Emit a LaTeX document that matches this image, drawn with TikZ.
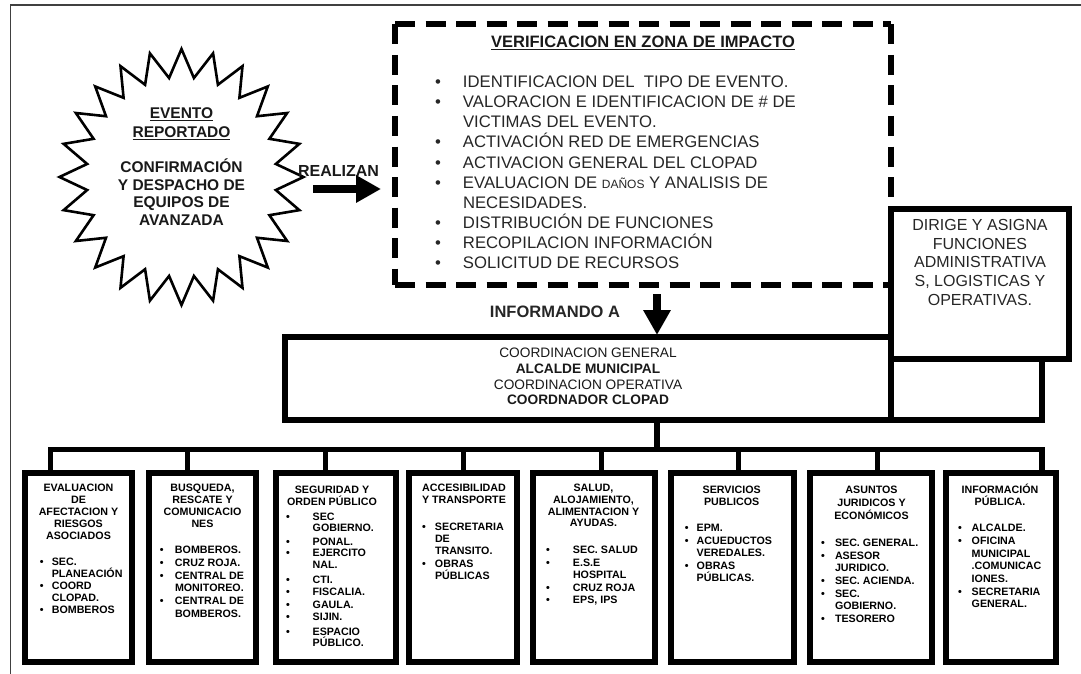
\documentclass[tikz,border=0pt]{standalone}
\usepackage{fontspec}
\setmainfont{Liberation Sans}
\usetikzlibrary{arrows.meta}
\setlength\lineskiplimit{-100pt}
\setlength\lineskip{0pt}
\newcommand\fs[2]{\fontsize{#1}{#2}\selectfont}
\newcommand\myul[1]{\setbox0\hbox{#1}\rlap{\rule[-2.6pt]{\wd0}{1.3pt}}\box0}
\def\bw{12pt}
\newcommand\mybul{\makebox[\bw][l]{\textbullet}}
\newcommand\myind{\hspace*{\bw}}
\begin{document}
\begin{tikzpicture}[x=1pt,y=-1pt,
  every node/.style={inner sep=0pt, outer sep=0pt},
  frame/.style={draw=black!75, line width=1.5pt},
  thickbox/.style={draw, line width=6pt, fill=white, line join=miter},
  dashline/.style={line width=6pt, dash pattern=on 20pt off 10.5pt},
  bigarrow/.style={line width=8.3pt, -{Triangle[length=25pt,width=26pt]}},
  bus/.style={line width=5.2pt, line join=miter},
  stitle/.style={align=center, anchor=north, font=\fs{10.7}{12}\bfseries},
  slist/.style={align=left, anchor=north west},
]
\useasboundingbox (0,0) rectangle (1081,674);
% outer frame (cropped)
\draw[frame] (10.5,674) -- (10.5,5) -- (1081,5);

% starburst
\draw[line width=2.6pt, line join=miter, miter limit=20] (303.5,177)
  \foreach \i in {1,...,47} { -- ({181.5+122*(0.89+0.11*cos(180*\i))*cos(7.5*\i)},{177+128*(0.89+0.11*cos(180*\i))*sin(7.5*\i)}) } -- cycle;
\node[align=center, anchor=north, font=\fs{15.5}{17.8}\bfseries, text=black!90] (evento) at (181.5,107.5)
  {\myul{EVENTO}\\[1.2pt]\myul{REPORTADO}\\[17.2pt]CONFIRMACIÓN\\Y DESPACHO DE\\EQUIPOS DE\\AVANZADA};

\node[font=\fs{16}{18}\bfseries, text=black!90] (realizan) at (338.5,171) {REALIZAN};

% dashed verification box
\node[minimum width=496pt, minimum height=260.5pt] (verif) at (643,154.75) {};
\draw[dashline] (verif.north west) -- (verif.south west);
\draw[dashline] (verif.north west) -- (verif.north east);
\draw[dashline] (verif.south west) -- (verif.south east);
\draw[dashline] (verif.north east) -- (verif.south east);
\node[anchor=north, font=\fs{16.5}{19}\bfseries, text=black!90] (vtitle) at (643,36.1) {\myul{VERIFICACION EN ZONA DE IMPACTO}};
\node[slist, font={\fs{16.7}{20.1}\def\bw{27.9pt}}, text=black!85] (vlist) at (435.1,76)
  {\mybul IDENTIFICACION DEL~ TIPO DE EVENTO.\\
   \mybul VALORACION E IDENTIFICACION DE \# DE\\
   \myind VICTIMAS DEL EVENTO.\\
   \mybul ACTIVACIÓN RED DE EMERGENCIAS\\
   \mybul ACTIVACION GENERAL DEL CLOPAD\\
   \mybul EVALUACION DE {\fs{12}{12}DAÑOS} Y ANALISIS DE\\
   \myind NECESIDADES.\\
   \mybul DISTRIBUCIÓN DE FUNCIONES\\
   \mybul RECOPILACION INFORMACIÓN\\
   \mybul SOLICITUD DE RECURSOS};

% arrow REALIZAN
\coordinate (ra) at (313,189);
\draw[bigarrow, shorten >=14pt] (ra) -- (ra -| verif.west);

% DIRIGE box
\node[thickbox, minimum width=178pt, minimum height=150pt] (dirige) at (980,283.5) {};
\node[align=center, anchor=north, font=\fs{16}{18.75}, text=black!85] (dtext) at (980,219.3)
  {DIRIGE Y ASIGNA\\FUNCIONES\\ADMINISTRATIVA\\S, LOGISTICAS Y\\OPERATIVAS.};

% coordination box
\node[draw, line width=6.5pt, minimum width=606pt, minimum height=83pt] (coord) at (588,378.5) {};
\node[align=center, anchor=north, font=\fs{13.7}{15.7}, text=black!90] (ctext) at (588,348.1)
  {COORDINACION GENERAL\\\textbf{ALCALDE MUNICIPAL}\\COORDINACION OPERATIVA\\\textbf{COORDNADOR CLOPAD}};
\coordinate (dx) at (1041.5,420);
\draw[line width=6pt, line join=miter] (dx |- dirige.south) -- (dx) -- (coord.south east);

\node[font=\fs{16.5}{19}\bfseries, text=black!85] (inf) at (555,312) {INFORMANDO A};
\coordinate (ia) at (657,294);
\draw[bigarrow, shorten >=2pt] (ia) -- (ia |- coord.north);

% bottom boxes
\node[thickbox, minimum width=107pt, minimum height=189pt] (b1) at (78.5,567.5) {};
\node[thickbox, minimum width=107pt, minimum height=189pt] (b2) at (202.5,567.5) {};
\node[thickbox, minimum width=120pt, minimum height=189pt] (b3) at (336,567.5) {};
\node[thickbox, minimum width=108pt, minimum height=189pt] (b4) at (463,567.5) {};
\node[thickbox, minimum width=122pt, minimum height=189pt] (b5) at (594,567.5) {};
\node[thickbox, minimum width=123pt, minimum height=189pt] (b6) at (732.5,567.5) {};
\node[thickbox, minimum width=122pt, minimum height=189pt] (b7) at (871,567.5) {};
\node[thickbox, minimum width=110pt, minimum height=189pt] (b8) at (1001,567.5) {};

% bus
\coordinate (cb) at (657,449.5);
\coordinate (d1) at (50.5,449.5);
\coordinate (d2) at (187.5,449.5);
\coordinate (d3) at (325.5,449.5);
\coordinate (d4) at (463.5,449.5);
\coordinate (d5) at (601.5,449.5);
\coordinate (d6) at (738.5,449.5);
\coordinate (d7) at (877.5,449.5);
\coordinate (d8) at (1042,449.5);
\draw[bus] (cb |- coord.south) -- (cb);
\draw[bus] (d1 |- b1.north) -- (d1) -- (d8) -- (d8 |- b8.north);
\foreach \k in {2,...,7} \draw[bus] (d\k) -- (d\k |- b\k.north);

% box texts
\node[stitle] (t1) at (78.5,484.2) {EVALUACION\\DE\\AFECTACION Y\\RIESGOS\\ASOCIADOS};
\node[slist, font={\fs{10.7}{12}\bfseries\def\bw{12pt}}] (l1) at (39.8,558.2)
  {\mybul SEC.\\\myind PLANEACIÓN\\\mybul COORD\\\myind CLOPAD.\\\mybul BOMBEROS};

\node[stitle, font=\fs{10.7}{11.9}\bfseries] (t2) at (202.5,484.2) {BUSQUEDA,\\RESCATE Y\\COMUNICACIO\\NES};
\node[slist, font={\fs{10.7}{12.7}\bfseries\def\bw{15.2pt}}] (l2) at (159.8,546.2)
  {\mybul BOMBEROS.\\\mybul CRUZ ROJA.\\\mybul CENTRAL DE\\\myind MONITOREO.\\\mybul CENTRAL DE\\\myind BOMBEROS.};

\node[stitle] (t3) at (332,486.2) {SEGURIDAD Y\\ORDEN PÚBLICO};
\node[slist, font={\fs{10.7}{12}\bfseries\def\bw{26.6pt}}] (l3) at (286.1,513.2)
  {\mybul SEC\\[-1pt]\myind GOBIERNO.\\[2pt]\mybul PONAL.\\[-1pt]\mybul EJERCITO\\\myind NAL.\\[3pt]\mybul CTI.\\\mybul FISCALIA.\\[1pt]\mybul GAULA.\\\mybul SIJIN.\\[3pt]\mybul ESPACIO\\[-1pt]\myind PÚBLICO.};

\node[stitle] (t4) at (464,484.2) {ACCESIBILIDAD\\Y TRANSPORTE};
\node[slist, font={\fs{10.7}{12}\bfseries\def\bw{12.9pt}}] (l4) at (422.1,522.9)
  {\mybul SECRETARIA\\\myind DE\\\myind TRANSITO.\\[1pt]\mybul OBRAS\\\myind PÚBLICAS};

\node[stitle, font=\fs{10.7}{11.7}\bfseries] (t5) at (593.5,484.2) {SALUD,\\ALOJAMIENTO,\\ALIMENTACION Y\\AYUDAS.};
\node[slist, font={\fs{10.7}{12.5}\bfseries\def\bw{26.9pt}}] (l5) at (546.1,546.2)
  {\mybul SEC. SALUD\\\mybul E.S.E\\\myind HOSPITAL\\\mybul CRUZ ROJA\\\mybul EPS, IPS};

\node[stitle] (t6) at (731.7,486.2) {SERVICIOS\\PUBLICOS};
\node[slist, font={\fs{10.7}{12.5}\bfseries\def\bw{11.9pt}}] (l6) at (684.8,524.2)
  {\mybul EPM.\\\mybul ACUEDUCTOS\\\myind VEREDALES.\\\mybul OBRAS\\\myind PÚBLICAS.};

\node[stitle, font=\fs{10.7}{13}\bfseries] (t7) at (871.5,486.2) {ASUNTOS\\JURIDICOS Y\\ECONÓMICOS};
\node[slist, font={\fs{10.7}{12.6}\bfseries\def\bw{13.9pt}}] (l7) at (821.1,539.2)
  {\mybul SEC. GENERAL.\\\mybul ASESOR\\\myind JURIDICO.\\\mybul SEC. ACIENDA.\\\mybul SEC.\\\myind GOBIERNO.\\\mybul TESORERO};

\node[stitle] (t8) at (1000,483.9) {INFORMACIÓN\\PÚBLICA.};
\node[slist, font={\fs{10.7}{12.7}\bfseries\def\bw{13.6pt}}] (l8) at (958.1,524.2)
  {\mybul ALCALDE.\\\mybul OFICINA\\\myind MUNICIPAL\\\myind .COMUNICAC\\\myind IONES.\\\mybul SECRETARIA\\\myind GENERAL.};
\end{tikzpicture}
\end{document}
